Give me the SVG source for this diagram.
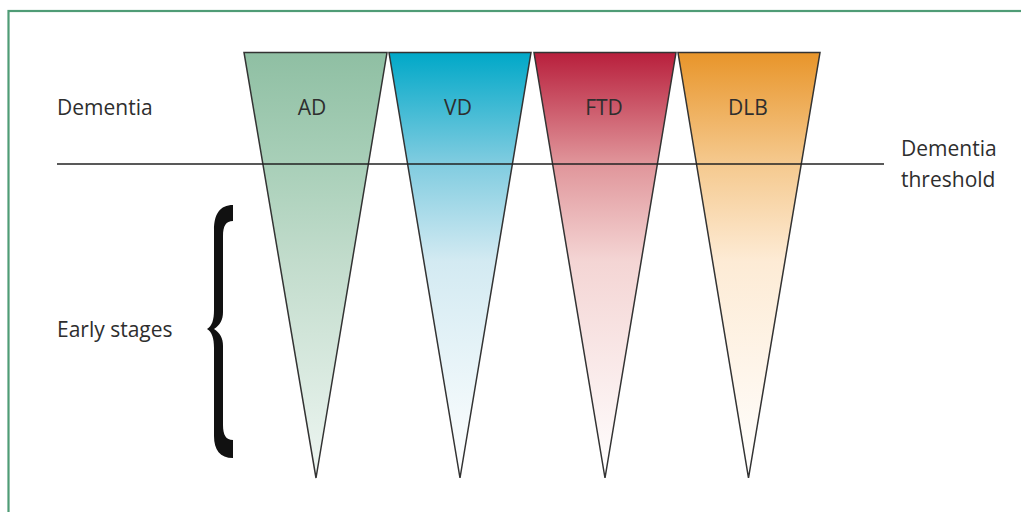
<svg xmlns="http://www.w3.org/2000/svg" width="1021" height="512" viewBox="0 0 1021 512">
<style>
.lbl{font-family:"Open Sans","Liberation Sans",sans-serif;font-size:21px;fill:#2e2e2e;}
.cone{stroke:#333;stroke-width:1.5;stroke-linejoin:miter;}
</style>
<defs>
<linearGradient id="gAD" x1="0" y1="0" x2="0" y2="1">
<stop offset="0" stop-color="#8fbfa3"/><stop offset="0.26" stop-color="#a8cfb8"/><stop offset="0.49" stop-color="#c2dccc"/><stop offset="1" stop-color="#eef6f2"/>
</linearGradient>
<linearGradient id="gVD" x1="0" y1="0" x2="0" y2="1">
<stop offset="0" stop-color="#00a8c8"/><stop offset="0.26" stop-color="#80cce0"/><stop offset="0.49" stop-color="#d3eaf2"/><stop offset="1" stop-color="#ffffff"/>
</linearGradient>
<linearGradient id="gFTD" x1="0" y1="0" x2="0" y2="1">
<stop offset="0" stop-color="#b81f3c"/><stop offset="0.26" stop-color="#e0959a"/><stop offset="0.49" stop-color="#f4d5d4"/><stop offset="1" stop-color="#ffffff"/>
</linearGradient>
<linearGradient id="gDLB" x1="0" y1="0" x2="0" y2="1">
<stop offset="0" stop-color="#e8952a"/><stop offset="0.26" stop-color="#f5c98e"/><stop offset="0.49" stop-color="#fdebd5"/><stop offset="1" stop-color="#ffffff"/>
</linearGradient>
</defs>
<rect x="0" y="0" width="1021" height="512" fill="#fff"/>
<rect id="frame" x="8.5" y="11" width="1030" height="520" fill="none" stroke="#4f9c76" stroke-width="2.2"/>
<g id="AD">
<polygon class="cone" points="244,52.5 387,52.5 316,478" fill="url(#gAD)"/>
<text class="lbl" x="312" y="115" text-anchor="middle">AD</text>
</g>
<g id="VD">
<polygon class="cone" points="389,52.5 531,52.5 460,478" fill="url(#gVD)"/>
<text class="lbl" x="458" y="115" text-anchor="middle">VD</text>
</g>
<g id="FTD">
<polygon class="cone" points="534,52.5 676,52.5 605,478" fill="url(#gFTD)"/>
<text class="lbl" x="604" y="115" text-anchor="middle">FTD</text>
</g>
<g id="DLB">
<polygon class="cone" points="678,52.5 820,52.5 748.5,478" fill="url(#gDLB)"/>
<text class="lbl" x="748" y="115" text-anchor="middle">DLB</text>
</g>
<g id="connectors">
<line x1="57" y1="164" x2="884" y2="164" stroke="#222" stroke-width="1.5"/>
</g>
<g id="dementia-label">
<text class="lbl" x="57" y="115">Dementia</text>
</g>
<g id="threshold-label">
<text class="lbl" x="901" y="156">Dementia</text>
<text class="lbl" x="901" y="187">threshold</text>
</g>
<g id="early-stages">
<text class="lbl" x="57" y="337">Early stages</text>
<path d="M233,205 L233,221 C226,221 223,226 223,236 L223,312 C223,320 220,325 214,329 C220,333 223,338 223,346 L223,425 C223,435 226,440 233,440 L233,458 C220,458 214,450 214,436 L214,348 C214,338 212,332 207,329 C212,326 214,320 214,310 L214,230 C214,214 220,205 233,205 Z" fill="#111"/>
</g>
</svg>
